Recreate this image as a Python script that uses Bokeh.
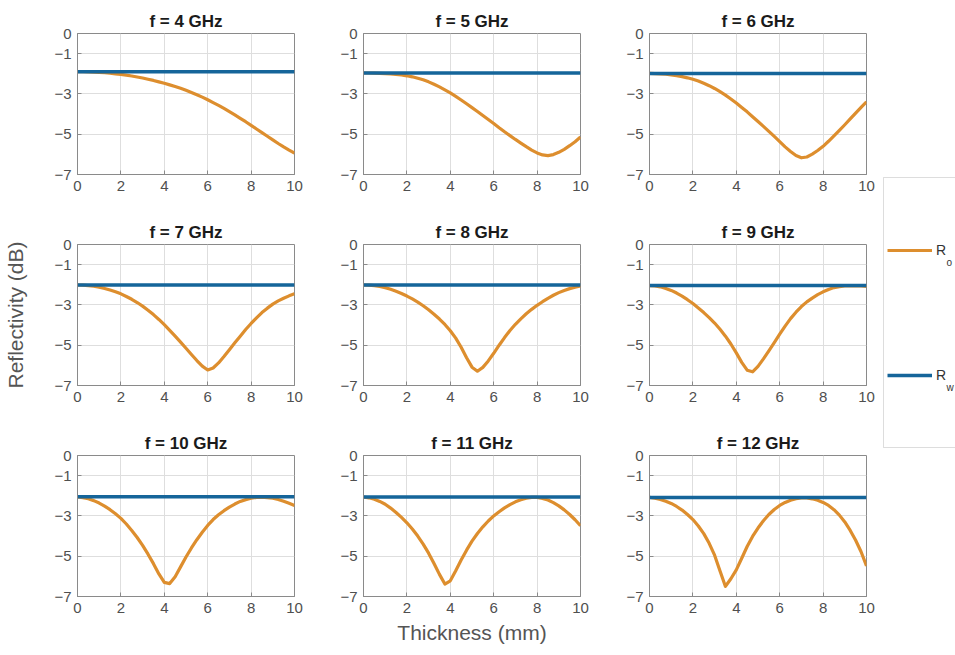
from bokeh.plotting import figure
from bokeh.layouts import row, column
from bokeh.models import Range1d, FixedTicker, Legend, LegendItem, Label, BoxAnnotation
from bokeh.embed import file_html
from bokeh.resources import INLINE

# ---------------- data ----------------
freqs_ghz = [4, 5, 6, 7, 8, 9, 10, 11, 12]
thickness_mm = [0.0, 0.25, 0.5, 0.75, 1.0, 1.25, 1.5, 1.75, 2.0, 2.25,
                2.5, 2.75, 3.0, 3.25, 3.5, 3.75, 4.0, 4.25, 4.5, 4.75,
                5.0, 5.25, 5.5, 5.75, 6.0, 6.25, 6.5, 6.75, 7.0, 7.25,
                7.5, 7.75, 8.0, 8.25, 8.5, 8.75, 9.0, 9.25, 9.5, 9.75, 10.0]

ro_4ghz = [-1.90, -1.90, -1.91, -1.92, -1.93, -1.95, -1.97, -2.00, -2.03, -2.07,
           -2.11, -2.16, -2.21, -2.27, -2.33, -2.40, -2.47, -2.55, -2.63, -2.72,
           -2.82, -2.93, -3.04, -3.16, -3.29, -3.43, -3.57, -3.72, -3.88, -4.04,
           -4.21, -4.38, -4.56, -4.74, -4.92, -5.10, -5.28, -5.46, -5.63, -5.79, -5.94]
ro_5ghz = [-1.96, -1.96, -1.97, -1.98, -1.99, -2.01, -2.03, -2.06, -2.10, -2.15,
           -2.22, -2.30, -2.40, -2.52, -2.65, -2.80, -2.95, -3.12, -3.30, -3.49,
           -3.68, -3.87, -4.07, -4.27, -4.47, -4.68, -4.88, -5.07, -5.26, -5.44,
           -5.62, -5.79, -5.93, -6.03, -6.06, -6.01, -5.90, -5.75, -5.57, -5.37, -5.14]
ro_6ghz = [-1.98, -1.99, -2.00, -2.02, -2.05, -2.09, -2.14, -2.20, -2.27, -2.36,
           -2.47, -2.59, -2.73, -2.89, -3.06, -3.25, -3.45, -3.67, -3.89, -4.13,
           -4.37, -4.61, -4.86, -5.11, -5.37, -5.63, -5.86, -6.06, -6.17, -6.13,
           -5.99, -5.81, -5.60, -5.35, -5.08, -4.81, -4.53, -4.24, -3.95, -3.67, -3.39]
ro_7ghz = [-2.01, -2.02, -2.04, -2.07, -2.12, -2.18, -2.26, -2.35, -2.45, -2.58,
           -2.72, -2.88, -3.06, -3.26, -3.48, -3.72, -3.98, -4.26, -4.55, -4.85,
           -5.15, -5.46, -5.76, -6.04, -6.23, -6.13, -5.88, -5.56, -5.22, -4.88,
           -4.55, -4.22, -3.92, -3.64, -3.38, -3.16, -2.96, -2.80, -2.67, -2.55, -2.45]
ro_8ghz = [-2.01, -2.02, -2.04, -2.08, -2.14, -2.22, -2.32, -2.43, -2.56, -2.70,
           -2.86, -3.04, -3.24, -3.46, -3.70, -3.97, -4.28, -4.65, -5.10, -5.62,
           -6.09, -6.29, -6.10, -5.78, -5.40, -5.00, -4.62, -4.27, -3.96, -3.69,
           -3.44, -3.22, -3.02, -2.84, -2.67, -2.52, -2.39, -2.28, -2.19, -2.12, -2.06]
ro_9ghz = [-2.04, -2.06, -2.10, -2.18, -2.28, -2.41, -2.56, -2.74, -2.93, -3.15,
           -3.38, -3.63, -3.90, -4.21, -4.55, -4.94, -5.38, -5.85, -6.24, -6.32,
           -6.05, -5.68, -5.28, -4.87, -4.45, -4.05, -3.68, -3.36, -3.08, -2.85,
           -2.66, -2.49, -2.35, -2.23, -2.14, -2.09, -2.06, -2.05, -2.05, -2.06, -2.08]
ro_10ghz = [-2.05, -2.09, -2.15, -2.24, -2.36, -2.51, -2.69, -2.89, -3.12, -3.40,
            -3.72, -4.07, -4.46, -4.90, -5.37, -5.88, -6.30, -6.36, -6.02, -5.53,
            -5.04, -4.59, -4.18, -3.81, -3.47, -3.18, -2.94, -2.74, -2.56, -2.41,
            -2.28, -2.19, -2.12, -2.08, -2.07, -2.09, -2.12, -2.18, -2.27, -2.37, -2.48]
ro_11ghz = [-2.06, -2.10, -2.17, -2.28, -2.42, -2.61, -2.83, -3.07, -3.34, -3.65,
            -4.00, -4.40, -4.85, -5.36, -5.90, -6.38, -6.22, -5.72, -5.19, -4.70,
            -4.25, -3.87, -3.54, -3.25, -3.00, -2.79, -2.60, -2.44, -2.30, -2.20,
            -2.12, -2.08, -2.08, -2.13, -2.21, -2.34, -2.50, -2.70, -2.93, -3.19, -3.49]
ro_12ghz = [-2.08, -2.12, -2.18, -2.27, -2.38, -2.53, -2.71, -2.93, -3.18, -3.50,
            -3.88, -4.36, -4.95, -5.73, -6.50, -6.12, -5.68, -5.10, -4.52, -4.02,
            -3.60, -3.24, -2.93, -2.68, -2.48, -2.33, -2.22, -2.14, -2.10, -2.11,
            -2.15, -2.22, -2.33, -2.48, -2.69, -2.96, -3.30, -3.72, -4.21, -4.78, -5.48]

# reflectivity of the water-only case (flat line), one value per frequency
rw_db = [-1.90, -1.96, -1.98, -2.01, -2.01, -2.04, -2.05, -2.06, -2.08]

ro_series = [ro_4ghz, ro_5ghz, ro_6ghz, ro_7ghz, ro_8ghz, ro_9ghz, ro_10ghz, ro_11ghz, ro_12ghz]

x_ticks = [0, 2, 4, 6, 8, 10]
y_ticks = [-7, -5, -3, -1, 0]
y_tick_labels = ["\u22127", "\u22125", "\u22123", "\u22121", "0"]

# ---------------- styles ----------------
ORANGE = "#DD8E2E"
BLUE = "#15659A"
FONT = "Liberation Sans"
FRAME = "#8a8a8a"
TICKTXT = "#4f4f4f"

figs = []
for i, f in enumerate(freqs_ghz):
    r, c = divmod(i, 3)
    left = 77 if c == 0 else 40
    right = 29 if c < 2 else 10
    bottom = 37 if r < 2 else 59
    top = 33
    w = left + 217 + right
    h = top + 141 + bottom
    p = figure(width=w, height=h, title=f"f = {f} GHz",
               x_range=Range1d(0, 10), y_range=Range1d(-7, 0),
               toolbar_location=None, output_backend="svg")
    p.min_border_left = left
    p.min_border_right = right
    p.min_border_top = top
    p.min_border_bottom = bottom
    p.background_fill_color = "white"
    p.border_fill_color = "white"
    p.outline_line_color = FRAME
    p.outline_line_width = 1

    p.title.align = "center"
    p.title.text_font = FONT
    p.title.text_font_size = "17px"
    p.title.text_font_style = "bold"
    p.title.text_color = "#1a1a1a"
    p.title.standoff = 6

    p.xaxis.ticker = FixedTicker(ticks=x_ticks)
    p.yaxis.ticker = FixedTicker(ticks=y_ticks)
    p.yaxis.major_label_overrides = dict(zip(y_ticks, y_tick_labels))
    for ax in (p.xaxis[0], p.yaxis[0]):
        ax.axis_line_color = FRAME
        ax.major_tick_line_color = FRAME
        ax.major_tick_in = 4
        ax.major_tick_out = 0
        ax.minor_tick_line_color = None
        ax.major_label_text_font = FONT
        ax.major_label_text_font_size = "15px"
        ax.major_label_text_color = TICKTXT
        ax.major_label_standoff = 6
        ax.axis_label_text_font = FONT
        ax.axis_label_text_font_size = "21px"
        ax.axis_label_text_font_style = "normal"
        ax.axis_label_text_color = "#555555"

    p.grid.grid_line_color = "#dedede"
    p.grid.grid_line_width = 1

    p.line(thickness_mm, ro_series[i], line_color=ORANGE, line_width=3.2,
           line_join="round")
    p.line(thickness_mm, [rw_db[i]] * len(thickness_mm), line_color=BLUE, line_width=3.5)

    if f == 7:
        p.yaxis.axis_label = "Reflectivity (dB)"
        p.yaxis.axis_label_standoff = 24
    if f == 11:
        p.xaxis.axis_label = "Thickness (mm)"
        p.xaxis.axis_label_standoff = 5
    figs.append(p)

# ---------------- legend panel ----------------
lf = figure(width=79, height=655, x_range=Range1d(0, 79), y_range=Range1d(0, 655),
            x_axis_type=None, y_axis_type=None,
            toolbar_location=None, output_backend="svg")
lf.min_border = 0
lf.min_border_left = 0
lf.min_border_right = 0
lf.min_border_top = 0
lf.min_border_bottom = 0
lf.grid.visible = False
lf.outline_line_color = None
lf.background_fill_color = "white"
lf.border_fill_color = "white"

lf.add_layout(BoxAnnotation(left=7, right=400, bottom=208, top=478,
                            fill_color=None, fill_alpha=0,
                            line_color="#8f8f8f", line_width=1))

# legend renderers carry real data that lies outside this panel's ranges
r_o = lf.line(thickness_mm, ro_4ghz, line_color=ORANGE, line_width=3.2)
r_w = lf.line(thickness_mm, [rw_db[0]] * len(thickness_mm), line_color=BLUE, line_width=3.5)
leg = Legend(items=[LegendItem(label="R", renderers=[r_o]),
                    LegendItem(label="R", renderers=[r_w])],
             location=(11, 270), glyph_width=45, glyph_height=20,
             label_height=20, spacing=105, padding=0, margin=0,
             border_line_color=None, background_fill_alpha=0,
             label_standoff=4, label_text_font=FONT,
             label_text_font_size="14px", label_text_color="#333333")
lf.add_layout(leg, "center")
lf.add_layout(Label(x=70, y=393, text="o", text_font=FONT, text_font_size="10px",
                    text_baseline="middle", text_color="#333333"))
lf.add_layout(Label(x=70, y=268, text="w", text_font=FONT, text_font_size="10px",
                    text_baseline="middle", text_color="#333333"))

grid = column(row(figs[0], figs[1], figs[2]),
              row(figs[3], figs[4], figs[5]),
              row(figs[6], figs[7], figs[8]))
layout = row(grid, lf)

open("out.html", "w").write(file_html(layout, INLINE))
